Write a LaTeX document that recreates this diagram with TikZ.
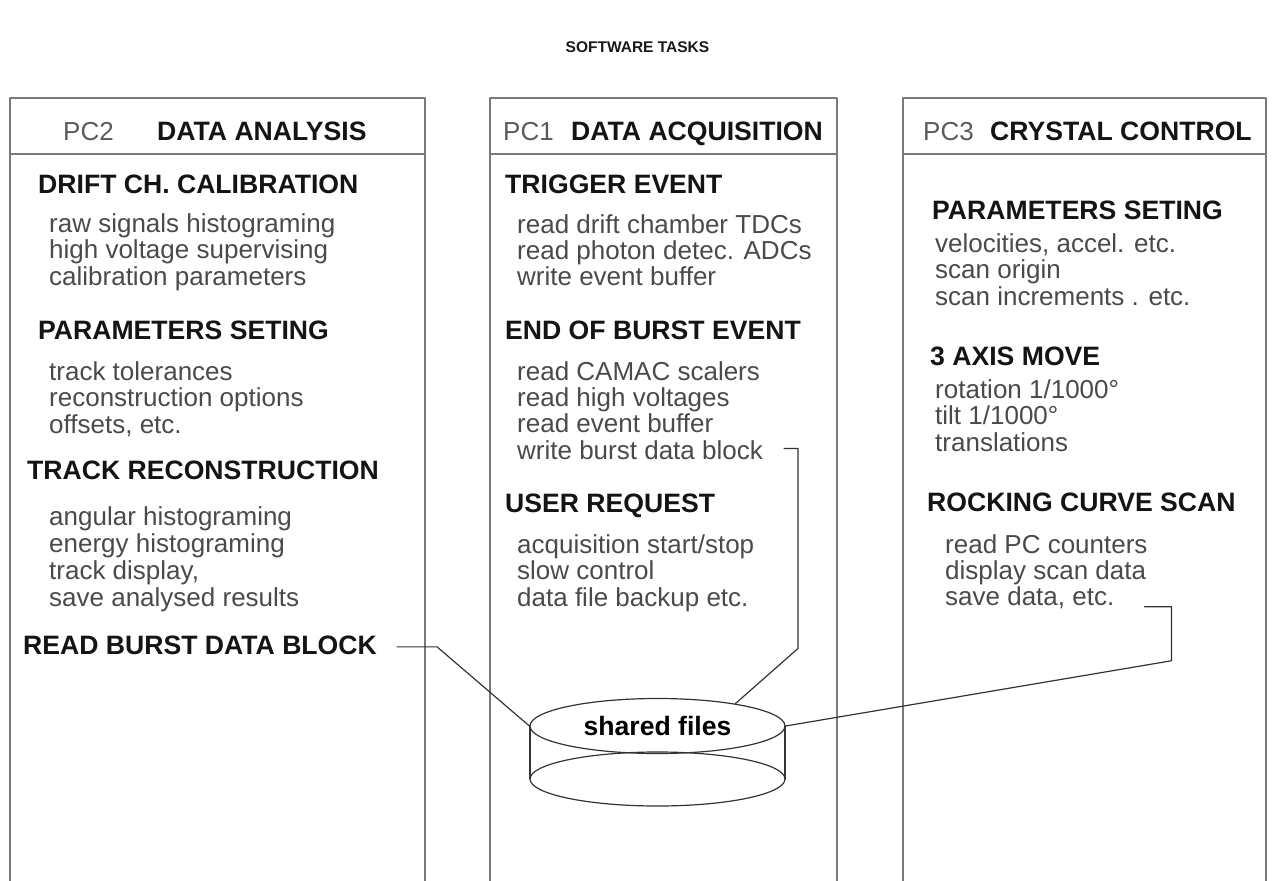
\documentclass[tikz,border=0pt]{standalone}
\usepackage{fontspec}
\setmainfont{Liberation Sans}
\usepackage{xcolor}
\usetikzlibrary{shapes.geometric}
\definecolor{txtgray}{HTML}{4A4A4A}
\definecolor{pcgray}{HTML}{5A5A5A}
\definecolor{colgray}{HTML}{7A7A7A}

\begin{document}
\begin{tikzpicture}[line cap=round,line join=round,x=1pt,y=-1pt,
    head/.style={anchor=base west,inner sep=0pt,font=\fontsize{26.6}{30}\selectfont\bfseries,text=black!92},
    body/.style={anchor=base west,inner sep=0pt,font=\fontsize{26}{30}\selectfont,text=txtgray},
    col/.style={draw=colgray,line width=2pt},
    link/.style={draw=black!80,line width=1.2pt}]
                \useasboundingbox (0,0) rectangle (1275,881);
                % columns
                \foreach \l/\r in {10/425,490/837,903/1266} {
                    \draw[col] (\l,881) -- (\l,98) -- (\r,98) -- (\r,881);
                    \draw[col] (\l,154) -- (\r,154);
                }
                \node[font=\fontsize{15.5}{18}\selectfont\bfseries,text=black!90] (title) at (637.5,47) {SOFTWARE TASKS};
                % headers
                \node[body,text=pcgray] (pc2) at (63,140) {PC2};
                \node[head] (ana) at (157,140) {DATA ANALYSIS};
                \node[body,text=pcgray] (pc1) at (503,140) {PC1};
                \node[head] (acq) at (571,140) {DATA ACQUISITION};
                \node[body,text=pcgray] (pc3) at (923,140) {PC3};
                \node[head] (cry) at (990,140) {CRYSTAL CONTROL};
                % PC2
                \node[head] (drift) at (38,193) {DRIFT CH. CALIBRATION};
                \foreach \t [count=\i from 0] in {raw signals histograming,high voltage supervising,calibration parameters}
                    \node[body] (drift\i) at (49,232+26.5*\i) {\t};
                \node[head] (parl) at (38,339) {PARAMETERS SETING};
                \foreach \t [count=\i from 0] in {track tolerances,reconstruction options,{offsets, etc.}}
                    \node[body] (parl\i) at (49,380+26.5*\i) {\t};
                \node[head] (track) at (27,479) {TRACK RECONSTRUCTION};
                \foreach \t [count=\i from 0] in {angular histograming,energy histograming,{track display,},save analysed results}
                    \node[body] (track\i) at (49,525+27*\i) {\t};
                \node[head] (readblk) at (23,654) {READ BURST DATA BLOCK};
                % PC1
                \node[head] (trig) at (505,193) {TRIGGER EVENT};
                \foreach \t [count=\i from 0] in {read drift chamber TDCs,read photon detec. ADCs,write event buffer}
                    \node[body] (trig\i) at (517,233+26*\i) {\t};
                \node[head] (eob) at (505,339) {END OF BURST EVENT};
                \foreach \t [count=\i from 0] in {read CAMAC scalers,read high voltages,read event buffer,write burst data block}
                    \node[body] (eob\i) at (517,380+26.4*\i) {\t};
                \node[head] (user) at (505,512) {USER REQUEST};
                \foreach \t [count=\i from 0] in {acquisition start/stop,slow control,data file backup etc.}
                    \node[body] (user\i) at (517,553+26.5*\i) {\t};
                % PC3
                \node[head] (parr) at (932,219) {PARAMETERS SETING};
                \foreach \t [count=\i from 0] in {{velocities, accel. etc.},scan origin,scan increments . etc.}
                    \node[body] (parr\i) at (935,252+26.5*\i) {\t};
                \node[head] (axis) at (930,365) {3 AXIS MOVE};
                \foreach \t [count=\i from 0] in {rotation 1/1000°,tilt 1/1000°,translations}
                    \node[body] (axis\i) at (935,398+26.5*\i) {\t};
                \node[head] (rock) at (927,511) {ROCKING CURVE SCAN};
                \foreach \t [count=\i from 0] in {read PC counters,display scan data,{save data, etc.}}
                    \node[body] (rock\i) at (945,553+26*\i) {\t};
                % shared files
                \draw[link] (657.5,779) ellipse [x radius=127.5, y radius=27];
                \draw[link] (530,726) -- (530,779) (785,726) -- (785,779);
                \node[link,draw,ellipse,minimum width=255pt,minimum height=55pt,inner sep=0pt,
                      font=\fontsize{26.6}{30}\selectfont\bfseries] (disk) at (657.5,726) {shared files};
                % links
                \draw[link] (readblk.east) ++(20,2) -- ++(40,0) -- (disk.west);
                \draw[link] (eob3.east) ++(21,-1.5) -- ++(14,0) -- ++(0,200) -- (disk.16);
                \draw[link] (rock2.east) ++(30,9.5) -- ++(27,0) -- ++(0,54) -- (disk.east);
\end{tikzpicture}
\end{document}
